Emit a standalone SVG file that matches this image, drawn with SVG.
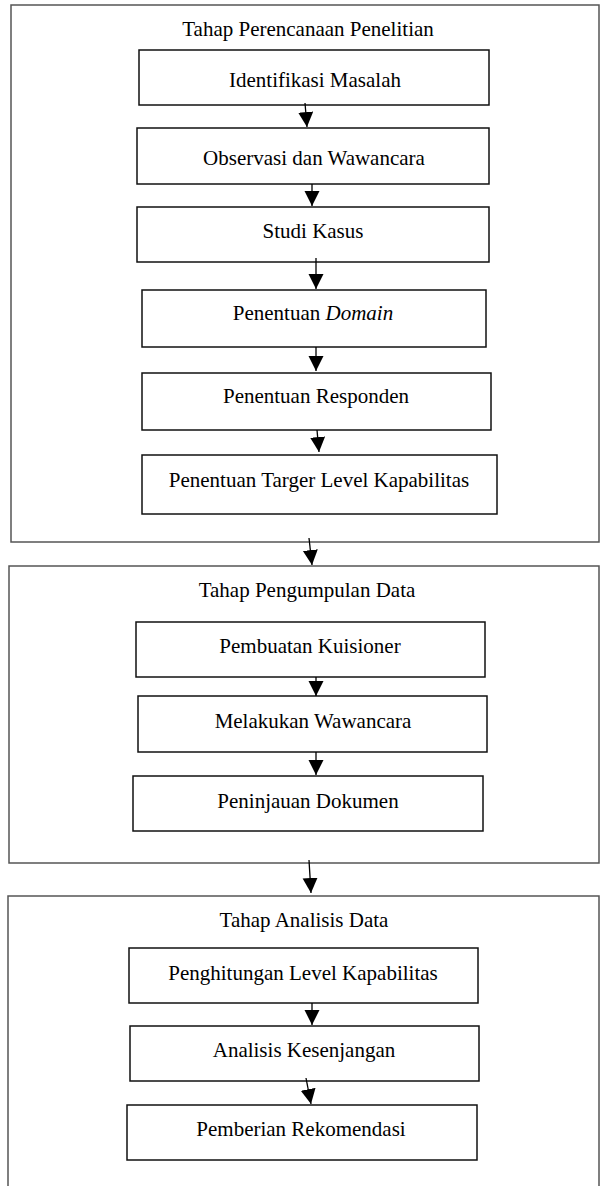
<svg xmlns="http://www.w3.org/2000/svg" width="600" height="1186" viewBox="0 0 600 1186">
<style>
.frame{fill:#fff;stroke:#555;stroke-width:1.5}
.box{fill:#fff;stroke:#111;stroke-width:1.5}
text{font-family:"Liberation Serif","Times New Roman",serif;font-size:21px;fill:#000;text-anchor:middle}
.conn line{stroke:#000;stroke-width:1.3}
</style>
<defs>
<marker id="ah" markerUnits="userSpaceOnUse" markerWidth="16" markerHeight="16" viewBox="0 0 16 16" refX="15" refY="7.5" orient="auto">
<path d="M0,0 L15,7.5 L0,15 Z" fill="#000"/>
</marker>
</defs>
<rect width="600" height="1186" fill="#fff"/>
<g id="stage1">
<rect class="frame" x="11" y="5" width="588" height="537"/>
<text x="308" y="36">Tahap Perencanaan Penelitian</text>
</g>
<g id="stage2">
<rect class="frame" x="9" y="566" width="590" height="297"/>
<text x="307" y="597">Tahap Pengumpulan Data</text>
</g>
<g id="stage3">
<rect class="frame" x="8" y="896" width="591" height="300"/>
<text x="304" y="927">Tahap Analisis Data</text>
</g>
<g id="n1"><rect class="box" x="139" y="50" width="350" height="55"/><text x="315" y="87">Identifikasi Masalah</text></g>
<g id="n2"><rect class="box" x="137" y="128" width="352" height="56"/><text x="314" y="165">Observasi dan Wawancara</text></g>
<g id="n3"><rect class="box" x="137" y="207" width="352" height="55"/><text x="313" y="238">Studi Kasus</text></g>
<g id="n4"><rect class="box" x="142" y="290" width="344" height="57"/><text x="313" y="320">Penentuan <tspan font-style="italic">Domain</tspan></text></g>
<g id="n5"><rect class="box" x="142" y="373" width="349" height="57"/><text x="316" y="403">Penentuan Responden</text></g>
<g id="n6"><rect class="box" x="142" y="455" width="355" height="59"/><text x="319" y="487">Penentuan Targer Level Kapabilitas</text></g>
<g id="n7"><rect class="box" x="136" y="622" width="349" height="55"/><text x="310" y="653">Pembuatan Kuisioner</text></g>
<g id="n8"><rect class="box" x="138" y="696" width="349" height="56"/><text x="313" y="728">Melakukan Wawancara</text></g>
<g id="n9"><rect class="box" x="133" y="776" width="350" height="55"/><text x="308" y="808">Peninjauan Dokumen</text></g>
<g id="n10"><rect class="box" x="129" y="948" width="349" height="55"/><text x="303" y="980">Penghitungan Level Kapabilitas</text></g>
<g id="n11"><rect class="box" x="130" y="1026" width="349" height="55"/><text x="304" y="1057">Analisis Kesenjangan</text></g>
<g id="n12"><rect class="box" x="127" y="1105" width="350" height="55"/><text x="301" y="1136">Pemberian Rekomendasi</text></g>
<g id="connectors" class="conn">
<line x1="305" y1="103" x2="307" y2="127" marker-end="url(#ah)"/>
<line x1="312" y1="184" x2="312" y2="206" marker-end="url(#ah)"/>
<line x1="316" y1="258" x2="316" y2="289" marker-end="url(#ah)"/>
<line x1="316" y1="347" x2="316" y2="371" marker-end="url(#ah)"/>
<line x1="317" y1="430" x2="319" y2="452" marker-end="url(#ah)"/>
<line x1="309" y1="538" x2="312" y2="565" marker-end="url(#ah)"/>
<line x1="316" y1="677" x2="316" y2="696" marker-end="url(#ah)"/>
<line x1="316" y1="752" x2="316" y2="775" marker-end="url(#ah)"/>
<line x1="309" y1="860" x2="311" y2="893" marker-end="url(#ah)"/>
<line x1="312" y1="1003" x2="312" y2="1025" marker-end="url(#ah)"/>
<line x1="306" y1="1078" x2="311" y2="1104" marker-end="url(#ah)"/>
</g>
</svg>
